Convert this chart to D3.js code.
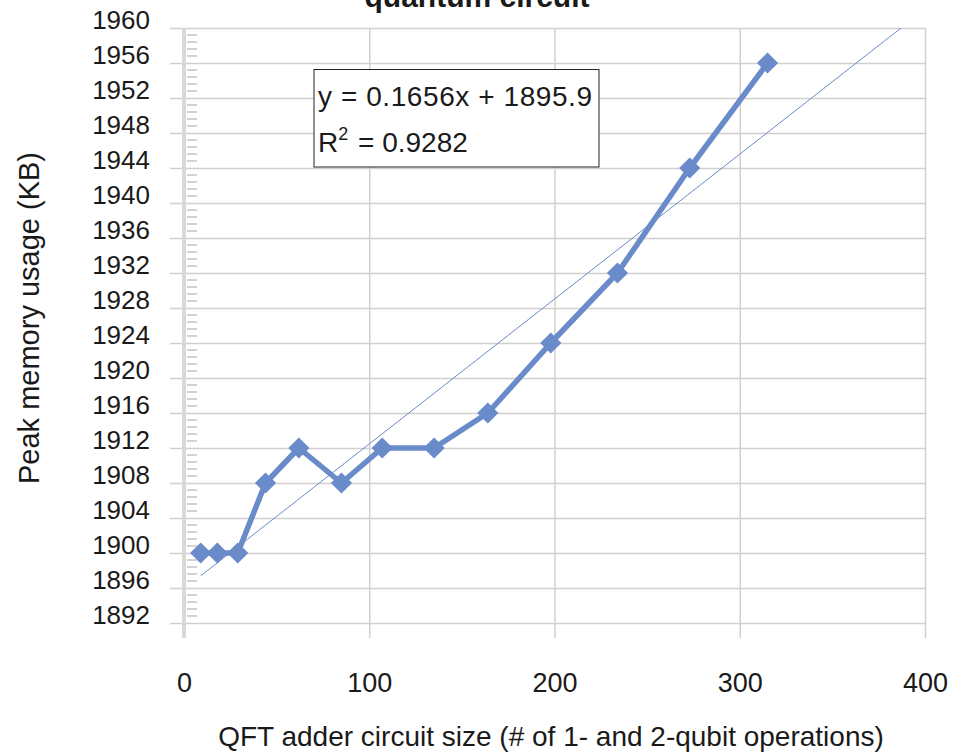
<!DOCTYPE html>
<html>
<head>
<meta charset="utf-8">
<script src="https://cdn.jsdelivr.net/npm/d3@7"></script>
<style>
  body { margin: 0; background: #fff; }
  svg { display: block; }
  text { font-family: "Liberation Sans", Arial, sans-serif; fill: #1a1a1a; }
</style>
</head>
<body>
<svg id="chart" width="965" height="752"></svg>
<script>

// circuit size (# of 1- and 2-qubit ops) and peak memory (KB)
const circuitSize = [9, 18, 29, 44, 62, 85, 107, 135, 164, 198, 234, 273, 315];
const peakMemory  = [1900, 1900, 1900, 1908, 1912, 1908, 1912, 1912, 1916, 1924, 1932, 1944, 1956];

const xTicks = [0, 100, 200, 300, 400];
const yTicks = [1892, 1896, 1900, 1904, 1908, 1912, 1916, 1920, 1924, 1928, 1932, 1936, 1940, 1944, 1948, 1952, 1956, 1960];

// linear trendline as reported by the spreadsheet
const trendSlope = 0.1656;
const trendIntercept = 1895.9;
const trendR2 = 0.9282;

const chart = function(){

    const svg = d3.select('#chart');

    const left = 184, right = 925, top = 28, bottom = 623;
    const blue = '#6a8bc9', grid = '#d3cfcf';

    let xScale = d3.scaleLinear().domain([0, 400]).range([left, right]);
    let yScale = d3.scaleLinear().domain([1892, 1960]).range([bottom, top]);

    // title (first line falls off the top of the picture, as in the original)
    svg.append('text')
        .attr('x', 477).attr('y', 7)
        .attr('text-anchor', 'middle')
        .style('font-size', '30px').style('font-weight', 'bold')
        .text('quantum circuit');

    // horizontal grid, sticking out to the left as tick marks
    svg.append('g')
        .attr('transform', 'translate(' + right + ',0)')
        .call(d3.axisLeft(yScale).tickValues(yTicks).tickSize(right - 170).tickFormat(''))
        .call(g => g.select('.domain').remove())
        .selectAll('line').attr('stroke', grid).attr('stroke-width', 1.5);

    // vertical grid, sticking out below as tick marks
    svg.append('g')
        .attr('transform', 'translate(0,' + top + ')')
        .call(d3.axisBottom(xScale).tickValues(xTicks).tickSize(638 - top).tickFormat(''))
        .call(g => g.select('.domain').remove())
        .selectAll('line').attr('stroke', grid).attr('stroke-width', 1.5);

    // y axis line
    svg.append('line')
        .attr('x1', left).attr('x2', left)
        .attr('y1', top).attr('y2', 638)
        .attr('stroke', '#dcd8d8').attr('stroke-width', 4);

    // minor ticks inside the plot
    let minor = d3.range(0, 86).map(function(k){ return 1892 + k * 0.8 })
                  .filter(function(v, k){ return k % 5 != 0 });
    svg.append('g').selectAll('line')
        .data(minor)
        .enter()
        .append('line')
        .attr('x1', 187).attr('x2', 197)
        .attr('y1', function(d){ return yScale(d) })
        .attr('y2', function(d){ return yScale(d) })
        .attr('stroke', '#b9b4b4').attr('stroke-width', 1.2);

    // tick labels
    svg.append('g')
        .attr('transform', 'translate(150,0)')
        .call(d3.axisLeft(yScale).tickValues(yTicks).tickFormat(d3.format('d')).tickSize(0).tickPadding(0))
        .call(g => g.select('.domain').remove())
        .selectAll('text')
        .attr('dy', 0)
        .style('font-size', '26px').style('font-family', '"Liberation Sans", Arial, sans-serif').style('fill', '#1a1a1a');

    svg.append('g')
        .attr('transform', 'translate(0,692)')
        .call(d3.axisBottom(xScale).tickValues(xTicks).tickFormat(d3.format('d')).tickSize(0).tickPadding(0))
        .call(g => g.select('.domain').remove())
        .selectAll('text')
        .attr('y', 0).attr('dy', 0)
        .style('font-size', '27px').style('font-family', '"Liberation Sans", Arial, sans-serif').style('fill', '#1a1a1a');

    // axis titles
    svg.append('text')
        .attr('x', 551).attr('y', 746)
        .attr('text-anchor', 'middle')
        .style('font-size', '28px')
        .text('QFT adder circuit size (# of 1- and 2-qubit operations)');

    svg.append('text')
        .attr('transform', 'translate(39,318) rotate(-90)')
        .attr('text-anchor', 'middle')
        .style('font-size', '29px')
        .text('Peak memory usage (KB)');

    // trendline, clipped to the plot
    svg.append('clipPath').attr('id', 'plotclip')
        .append('rect')
        .attr('x', left).attr('y', top)
        .attr('width', right - left).attr('height', bottom - top);

    let trendX = [circuitSize[0], 400];
    svg.append('path')
        .datum(trendX)
        .attr('clip-path', 'url(#plotclip)')
        .attr('fill', 'none')
        .attr('stroke', blue).attr('stroke-width', 1)
        .attr('d', d3.line()
            .x(function(d){ return xScale(d) })
            .y(function(d){ return yScale(trendSlope * d + trendIntercept) }));

    // series
    let data = circuitSize.map(function(d, i){ return {x: d, y: peakMemory[i]} });

    svg.append('path')
        .datum(data)
        .attr('fill', 'none')
        .attr('stroke', blue).attr('stroke-width', 5.5)
        .attr('stroke-linejoin', 'round')
        .attr('d', d3.line()
            .x(function(d){ return xScale(d.x) })
            .y(function(d){ return yScale(d.y) }));

    svg.selectAll('path.marker')
        .data(data)
        .enter()
        .append('path')
        .attr('class', 'marker')
        .attr('d', d3.symbol().type(d3.symbolSquare).size(225))
        .attr('fill', blue)
        .attr('transform', function(d){
            return 'translate(' + xScale(d.x) + ',' + yScale(d.y) + ') rotate(45)' });

    // equation box
    let box = svg.append('g');
    box.append('rect')
        .attr('x', 314).attr('y', 69.5)
        .attr('width', 285).attr('height', 97.5)
        .attr('fill', '#fff').attr('stroke', '#222').attr('stroke-width', 1);

    box.append('text')
        .attr('x', 318).attr('y', 106)
        .style('font-size', '28px')
        .attr('textLength', 274).attr('lengthAdjust', 'spacing')
        .text('y = ' + trendSlope + 'x + ' + trendIntercept);

    let r2 = box.append('text')
        .attr('x', 318).attr('y', 152)
        .style('font-size', '28px');
    r2.append('tspan').text('R');
    r2.append('tspan').attr('dy', -12).style('font-size', '18px').text('2');
    r2.append('tspan').attr('dy', 12).attr('dx', 2).text(' = ' + trendR2);

}();

</script>
</body>
</html>
